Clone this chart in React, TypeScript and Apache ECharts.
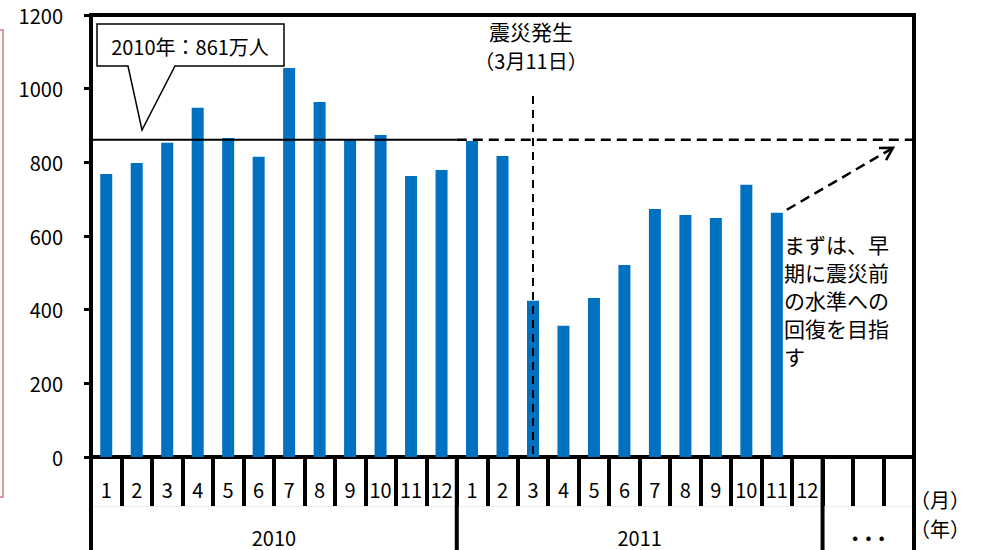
import React, { useEffect, useRef } from "react";
import * as echarts from "echarts";

const months2010 = ["1", "2", "3", "4", "5", "6", "7", "8", "9", "10", "11", "12"];
const months2011 = ["1", "2", "3", "4", "5", "6", "7", "8", "9", "10", "11", "12"];
const extraSlots = ["", "", ""];
const years = ["2010", "2011", "..."];
const visitors2010 = [768, 798, 853, 948, 866, 815, 1056, 964, 863, 874, 763, 779];
const visitors2011 = [858, 817, 424, 356, 432, 521, 673, 657, 649, 739, 663];
const average2010 = 861;
const yTicks = [0, 200, 400, 600, 800, 1000, 1200];
const calloutText = "2010年：861万人";
const quakeTitle = "震災発生";
const quakeDate = "（3月11日）";
const quakeIndex = 14; // 2011年3月
const goalLines = ["まずは、早", "期に震災前", "の水準への", "回復を目指", "す"];

const FONT = "'Noto Sans CJK JP', 'Noto Sans', sans-serif";

export default function App() {
  const ref = useRef<HTMLDivElement>(null);
  useEffect(() => {
    if (!ref.current) return;
    const chart = echarts.init(ref.current, undefined, { renderer: "svg" });
    const categories = [...months2010, ...months2011, ...extraSlots];
    const values: (number | null)[] = [...visitors2010, ...visitors2011];
    while (values.length < categories.length) values.push(null);

    chart.setOption({
      animation: false,
      textStyle: { fontFamily: FONT },
      grid: {
        left: 91,
        right: 73,
        top: 15,
        bottom: 93,
        show: true,
        borderColor: "#000",
        borderWidth: 4,
      },
      xAxis: {
        type: "category",
        data: categories,
        boundaryGap: true,
        axisLine: { lineStyle: { color: "#000", width: 4 } },
        axisTick: {
          show: true,
          interval: 0,
          length: 49,
          lineStyle: { color: "#000", width: 4 },
        },
        axisLabel: {
          interval: 0,
          color: "#000",
          fontSize: 20,
          margin: 22,
          fontFamily: FONT,
        },
      },
      yAxis: {
        type: "value",
        min: yTicks[0],
        max: yTicks[yTicks.length - 1],
        interval: 200,
        splitLine: { show: false },
        axisLine: { show: true, lineStyle: { color: "#000", width: 4 } },
        axisTick: { show: true, length: 7, lineStyle: { color: "#000", width: 3 } },
        axisLabel: {
          color: "#000",
          fontSize: 20,
          margin: 28,
          fontFamily: FONT,
          formatter: (v: number) => String(v),
        },
      },
      series: [
        {
          type: "bar",
          data: values,
          barWidth: 12,
          itemStyle: { color: "#0070c0" },
        },
      ],
    });

    const px = (i: number, v: number) =>
      chart.convertToPixel({ seriesIndex: 0 }, [i, v]) as number[];
    const n = categories.length;
    const bw = px(1, 0)[0] - px(0, 0)[0];
    const edge = (i: number) => px(i, 0)[0] - bw / 2;
    const y0 = px(0, 0)[1];
    const yAvg = px(0, average2010)[1];
    const left = edge(0);
    const right = edge(n);
    const split2011 = edge(12);
    const split3 = edge(24);
    const bottom = 550;

    const lastIdx = visitors2010.length + visitors2011.length - 1;
    const lastTop = px(lastIdx, visitors2011[visitors2011.length - 1]);
    const a0 = [lastTop[0] + 10, lastTop[1] - 3];
    const a1 = [right - 21, yAvg + 8];
    const dx = a1[0] - a0[0];
    const dy = a1[1] - a0[1];
    const len = Math.sqrt(dx * dx + dy * dy);
    const ux = dx / len;
    const uy = dy / len;
    const hl = 14;
    const rot = (ang: number) => [
      a1[0] - hl * (ux * Math.cos(ang) - uy * Math.sin(ang)),
      a1[1] - hl * (ux * Math.sin(ang) + uy * Math.cos(ang)),
    ];
    const h1 = rot(Math.PI / 6);
    const h2 = rot(-Math.PI / 6);

    const qx = px(quakeIndex, 0)[0];
    const qTop = px(quakeIndex, 980)[1];

    const black = { stroke: "#000", lineWidth: 2 };
    const dashed = { stroke: "#000", lineWidth: 2.5, lineDash: [10, 6] };

    const graphic: any[] = [
      {
        type: "rect",
        shape: { x: -30, y: 30, width: 33, height: 467 },
        style: { fill: "none", stroke: "#dc9c9c", lineWidth: 2 },
        silent: true,
      },
      { type: "line", shape: { x1: left, y1: yAvg, x2: split2011, y2: yAvg }, style: black, z: 10 },
      { type: "line", shape: { x1: split2011, y1: yAvg, x2: right, y2: yAvg }, style: dashed, z: 10 },
      { type: "line", shape: { x1: qx, y1: qTop, x2: qx, y2: y0 }, style: { stroke: "#000", lineWidth: 2, lineDash: [8, 6] }, z: 10 },
      { type: "line", shape: { x1: a0[0], y1: a0[1], x2: a1[0], y2: a1[1] }, style: dashed, z: 10 },
      { type: "polyline", shape: { points: [h1, a1, h2] }, style: { stroke: "#000", lineWidth: 2.5, fill: "none" }, z: 10 },
      ...[left, split2011, split3, right].map((x) => ({
        type: "line",
        shape: { x1: x, y1: y0, x2: x, y2: bottom },
        style: { stroke: "#000", lineWidth: 4 },
        z: 10,
      })),
      { type: "line", shape: { x1: left, y1: 506.5, x2: right, y2: 506.5 }, style: { stroke: "#ececec", lineWidth: 1 }, z: 1 },
      {
        type: "text",
        x: (left + split2011) / 2,
        y: 537,
        style: { text: years[0], font: `20px ${FONT}`, fill: "#000", align: "center", verticalAlign: "middle" },
      },
      {
        type: "text",
        x: (split2011 + split3) / 2,
        y: 537,
        style: { text: years[1], font: `20px ${FONT}`, fill: "#000", align: "center", verticalAlign: "middle" },
      },
      {
        type: "text",
        x: (split3 + right) / 2,
        y: 530,
        style: { text: years[2].split("").join(" "), font: `bold 24px ${FONT}`, fill: "#000", align: "center", verticalAlign: "middle" },
      },
      {
        type: "text",
        x: 940,
        y: 499,
        style: { text: "（月）", font: `20px ${FONT}`, fill: "#000", align: "center", verticalAlign: "middle" },
      },
      {
        type: "text",
        x: 940,
        y: 528,
        style: { text: "（年）", font: `20px ${FONT}`, fill: "#000", align: "center", verticalAlign: "middle" },
      },
      {
        type: "polygon",
        shape: {
          points: [
            [97, 24],
            [284, 24],
            [284, 66],
            [175, 66],
            [142, 130],
            [128, 66],
            [97, 66],
          ],
        },
        style: { fill: "#fff", stroke: "#000", lineWidth: 1.5 },
        z: 20,
      },
      {
        type: "text",
        x: 190,
        y: 46,
        z: 21,
        style: { text: calloutText, font: `20px ${FONT}`, fill: "#000", align: "center", verticalAlign: "middle" },
      },
      {
        type: "text",
        x: 531,
        y: 31,
        style: { text: quakeTitle, font: `21px ${FONT}`, fill: "#000", align: "center", verticalAlign: "middle" },
      },
      {
        type: "text",
        x: 531,
        y: 60,
        style: { text: quakeDate, font: `20px ${FONT}`, fill: "#000", align: "center", verticalAlign: "middle" },
      },
      ...goalLines.map((t, i) => ({
        type: "text",
        x: 784,
        y: 244 + i * 28,
        style: { text: t, font: `21px ${FONT}`, fill: "#000", align: "left", verticalAlign: "middle" },
      })),
    ];
    chart.setOption({ graphic });

    return () => chart.dispose();
  }, []);
  return <div ref={ref} style={{ width: 987, height: 550, position: "absolute", left: 0, top: 0 }} />;
}
